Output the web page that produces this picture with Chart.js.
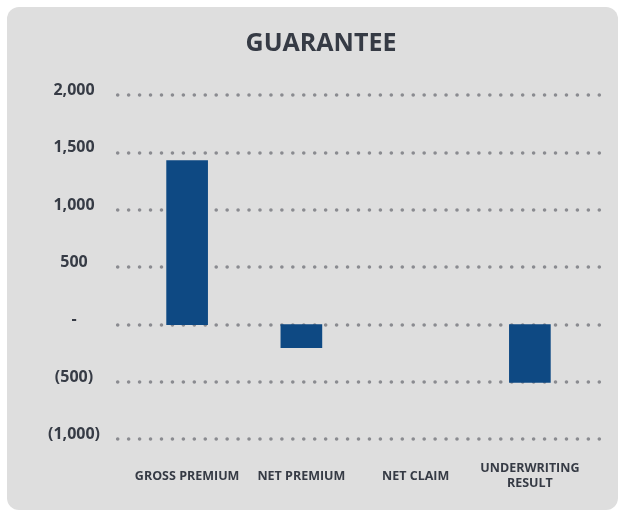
<!DOCTYPE html>
<html>
<head>
<meta charset="utf-8">
<title>Guarantee</title>
<script src="https://cdn.jsdelivr.net/npm/chart.js@4/dist/chart.umd.min.js"></script>
<style>
  html, body { margin: 0; padding: 0; background: #ffffff; }
  #chart { display: block; }
</style>
</head>
<body>
<canvas id="chart" width="623" height="512"></canvas>
<script>
// Underwriting figures for the guarantee line
const categories = ['GROSS PREMIUM', 'NET PREMIUM', 'NET CLAIM', ['UNDERWRITING', 'RESULT']];
const values = [1430, -200, 0, -505];
const yTicks = [2000, 1500, 1000, 500, 0, -500, -1000];

const TEXT = '#363b45';
const BAR = '#0e4983';
const DOT = '#8a8b90';
const PANEL = '#dedede';
const FONT = '"Open Sans", "DejaVu Sans", sans-serif';

// Accounting style: zero as a dash, negatives in brackets
function fmtAccounting(v) {
  if (v === 0) return '-';
  const s = Math.abs(v).toLocaleString('en-US');
  return v < 0 ? '(' + s + ')' : s;
}

// Rounded grey card behind the whole chart
const panelPlugin = {
  id: 'panel',
  beforeDraw(chart) {
    const ctx = chart.ctx;
    ctx.save();
    ctx.fillStyle = PANEL;
    ctx.beginPath();
    ctx.roundRect(7, 7, 611, 503, 12);
    ctx.fill();
    ctx.restore();
  }
};

// Dotted guide lines at each y tick, running wider than the bar area
const dottedGrid = {
  id: 'dottedGrid',
  beforeDatasetsDraw(chart) {
    const ctx = chart.ctx;
    const y = chart.scales.y;
    const x0 = 117.7, x1 = 599.3, gaps = 44;
    ctx.save();
    ctx.strokeStyle = DOT;
    ctx.lineWidth = 3.6;
    ctx.lineCap = 'round';
    ctx.setLineDash([0, (x1 - x0) / gaps]);
    y.ticks.forEach(t => {
      const py = Math.round(y.getPixelForValue(t.value));
      ctx.beginPath();
      ctx.moveTo(x0, py);
      ctx.lineTo(x1 + 0.5, py);
      ctx.stroke();
    });
    ctx.restore();
  }
};

new Chart(document.getElementById('chart'), {
  type: 'bar',
  data: {
    labels: categories,
    datasets: [{
      data: values,
      backgroundColor: c => (c.raw === 0 ? 'rgba(0,0,0,0)' : BAR),
      borderWidth: 0,
      barThickness: 41
    }]
  },
  options: {
    responsive: false,
    animation: false,
    events: [],
    layout: { padding: { left: 19, right: 0, top: 0, bottom: 0 } },
    plugins: {
      legend: { display: false },
      tooltip: { enabled: false },
      title: {
        display: true,
        text: 'GUARANTEE',
        color: TEXT,
        font: { family: FONT, size: 25, weight: 'bold', lineHeight: 1.2 },
        padding: { top: 29, bottom: 36.3 }
      }
    },
    scales: {
      x: {
        grid: { display: false, drawTicks: false },
        border: { display: false },
        afterFit(scale) { scale.height = 72.7; },
        ticks: {
          color: TEXT,
          font: { family: FONT, size: 12.5, weight: 'bold', lineHeight: 1.24 },
          padding: 29,
          crossAlign: 'center',
          maxRotation: 0,
          autoSkip: false
        }
      },
      y: {
        min: -1000,
        max: 2000,
        afterBuildTicks(scale) {
          scale.ticks = yTicks.map(v => ({ value: v }));
        },
        afterFit(scale) { scale.width = 111; },
        grid: { display: false, drawTicks: false },
        border: { display: false },
        ticks: {
          color: TEXT,
          font: { family: FONT, size: 16, weight: 'bold' },
          crossAlign: 'center',
          padding: 30,
          labelOffset: -5,
          callback: v => fmtAccounting(v)
        }
      },
      // empty right-hand gutter so the card margin mirrors the left side
      gutter: {
        type: 'linear',
        position: 'right',
        grid: { display: false, drawTicks: false },
        border: { display: false },
        ticks: { display: false },
        afterFit(scale) { scale.width = 36; }
      }
    }
  },
  plugins: [panelPlugin, dottedGrid]
});
</script>
</body>
</html>
